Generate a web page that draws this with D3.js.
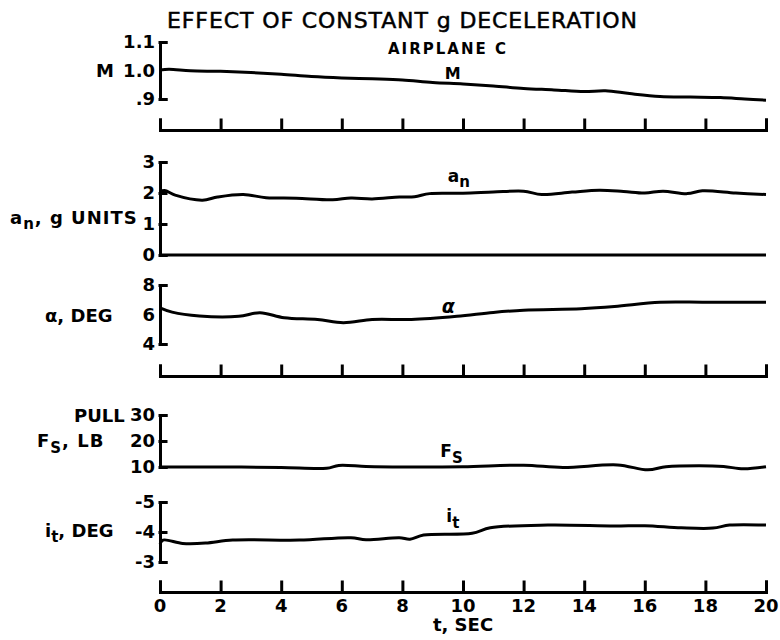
<!DOCTYPE html>
<html>
<head>
<meta charset="utf-8">
<script src="https://cdn.jsdelivr.net/npm/d3@7"></script>
<style>
  body { margin: 0; background: #fff; }
  text { font-family: "DejaVu Sans", "Liberation Sans", sans-serif; font-weight: bold; fill: #000; }
</style>
</head>
<body>
<svg id="chart" width="780" height="640"></svg>
<script>
// time histories, t in seconds
let tM = [0, 0.3, 1, 2, 3, 4, 5, 6, 7, 8, 9, 10, 11, 12, 13, 14, 14.7, 15.5, 16.5, 17.5, 18.5, 19.3, 20];
let mach = [1.002, 1.004, 0.999, 0.997, 0.993, 0.987, 0.979, 0.974, 0.971, 0.967, 0.958, 0.953, 0.946, 0.937, 0.932, 0.926, 0.929, 0.919, 0.909, 0.907, 0.905, 0.900, 0.896];

let tAn = [0, 0.15, 0.5, 1.4, 1.9, 2.75, 3.5, 4.5, 5.7, 6.3, 7, 7.9, 8.4, 8.9, 10, 11, 12, 12.6, 13.6, 14.5, 15.3, 16, 16.6, 17.4, 17.9, 19, 20];
let an = [2.04, 2.08, 1.93, 1.77, 1.87, 1.95, 1.85, 1.83, 1.78, 1.84, 1.81, 1.87, 1.88, 1.98, 1.99, 2.03, 2.06, 1.95, 2.03, 2.09, 2.05, 2.0, 2.06, 1.98, 2.07, 2.0, 1.95];

let tAlpha = [0, 0.4, 1.3, 2.6, 3.3, 4.1, 5.2, 6.05, 7, 7.9, 8.3, 9.8, 11, 12, 13.9, 15, 16.5, 18, 20];
let alpha = [6.45, 6.16, 5.9, 5.88, 6.12, 5.78, 5.66, 5.44, 5.66, 5.66, 5.66, 5.88, 6.14, 6.29, 6.39, 6.54, 6.83, 6.83, 6.83];

let tFs = [0, 2, 4, 5.5, 5.9, 6.8, 8, 10, 12, 13.3, 15.1, 16.1, 16.7, 17.8, 18.6, 19.25, 20];
let fs = [10, 10, 9.8, 9.5, 10.6, 10.2, 10.0, 10.1, 10.7, 9.8, 10.8, 8.9, 10.1, 10.5, 10.2, 9.3, 10.1];

let tIt = [0, 0.1, 0.75, 1.5, 2.4, 4.6, 6.3, 6.8, 7.9, 8.25, 8.7, 10.3, 10.9, 12.8, 15, 16, 17.2, 18.25, 18.8, 20];
let it = [-3.6, -3.73, -3.62, -3.63, -3.73, -3.73, -3.81, -3.74, -3.81, -3.76, -3.9, -3.96, -4.14, -4.23, -4.2, -4.21, -4.14, -4.13, -4.23, -4.23];

let timeTicks = [0, 2, 4, 6, 8, 10, 12, 14, 16, 18, 20];

let mTicks = [1.1, 1.0, 0.9], mTickLabels = ['1.1', '1.0', '.9'];
let anTicks = [3, 2, 1, 0], anTickLabels = ['3', '2', '1', '0'];
let alphaTicks = [8, 6, 4], alphaTickLabels = ['8', '6', '4'];
let fsTicks = [30, 20, 10], fsTickLabels = ['30', '20', '10'];
let itTicks = [-5, -4, -3], itTickLabels = ['-5', '-4', '-3'];

let svg = d3.select('#chart');
let sw = 3;

let x = d3.scaleLinear().domain([0, 20]).range([160, 766]);

let yM = d3.scaleLinear().domain([0.9, 1.1]).range([99, 42]);
let yAn = d3.scaleLinear().domain([0, 3]).range([255, 162]);
let yAlpha = d3.scaleLinear().domain([4, 8]).range([344, 285]);
let yFs = d3.scaleLinear().domain([10, 30]).range([467, 415]);
let yIt = d3.scaleLinear().domain([-3, -5]).range([562, 502]);

let panels = [
    {t: tM, v: mach, y: yM, ticks: [1.1, 0.9], labels: mTicks, text: mTickLabels},
    {t: tAn, v: an, y: yAn, ticks: [3, 2, 1, 0], labels: anTicks, text: anTickLabels},
    {t: tAlpha, v: alpha, y: yAlpha, ticks: [8, 4], labels: alphaTicks, text: alphaTickLabels},
    {t: tFs, v: fs, y: yFs, ticks: [30, 20, 10], labels: fsTicks, text: fsTickLabels},
    {t: tIt, v: it, y: yIt, ticks: [-5, -4, -3], labels: itTicks, text: itTickLabels}
];

function style_axis(g) {
    g.selectAll('path, line').attr('stroke', '#000').attr('stroke-width', sw).attr('stroke-linecap', 'square');
    g.selectAll('text').remove();
}

panels.forEach(p => {
    // bracket style vertical scale
    let ga = svg.append('g').attr('transform', 'translate(' + x(0) + ',0)')
        .call(d3.axisRight(p.y).tickValues(p.ticks).tickSize(6).tickSizeOuter(6).tickFormat(''));
    style_axis(ga);

    svg.append('g').selectAll('text')
        .data(p.labels)
        .enter()
        .append('text')
        .attr('x', 155)
        .attr('y', d => p.y(d))
        .attr('dy', '0.36em')
        .attr('text-anchor', 'end')
        .style('font-size', '18px')
        .text((d, i) => p.text[i]);

    let line = d3.line()
        .x(d => x(d[0]))
        .y(d => p.y(d[1]))
        .curve(d3.curveCatmullRom);

    svg.append('path')
        .datum(p.t.map((t, i) => [t, p.v[i]]))
        .attr('d', line)
        .attr('fill', 'none')
        .attr('stroke', '#000')
        .attr('stroke-width', sw)
        .attr('stroke-linejoin', 'round');
});

// zero line of the load factor panel
svg.append('line')
    .attr('x1', x(0)).attr('x2', x(20))
    .attr('y1', yAn(0)).attr('y2', yAn(0))
    .attr('stroke', '#000').attr('stroke-width', sw);

// time scales
[130, 376, 592].forEach(yy => {
    let g = svg.append('g').attr('transform', 'translate(0,' + yy + ')')
        .call(d3.axisTop(x).tickValues(timeTicks).tickSize(10).tickSizeOuter(10).tickFormat(''));
    style_axis(g);
});

svg.append('g').selectAll('text')
    .data(timeTicks)
    .enter()
    .append('text')
    .attr('x', d => x(d))
    .attr('y', 612)
    .attr('text-anchor', 'middle')
    .style('font-size', '18px')
    .text(d => d);

svg.append('text').attr('x', x(10)).attr('y', 631).attr('text-anchor', 'middle')
    .style('font-size', '18px').text('t, SEC');

// titles
svg.append('text').attr('x', 167).attr('y', 28)
    .attr('textLength', 470).attr('lengthAdjust', 'spacing')
    .style('font-size', '22px').style('font-weight', 'normal')
    .attr('stroke', '#000').attr('stroke-width', 0.5)
    .text('EFFECT OF CONSTANT g DECELERATION');

svg.append('text').attr('x', 388).attr('y', 54)
    .style('font-size', '15px').style('letter-spacing', '2px')
    .text('AIRPLANE C');

// left hand labels
let lsz = '18px';
svg.append('text').attr('x', 96).attr('y', 77).style('font-size', lsz).text('M');

let lan = svg.append('text').attr('x', 10).attr('y', 224).style('font-size', lsz).style('letter-spacing', '1px');
lan.append('tspan').text('a');
lan.append('tspan').attr('dy', 5).style('font-size', '15px').text('n');
lan.append('tspan').attr('dy', -5).text(', g UNITS');

svg.append('text').attr('x', 45).attr('y', 322).style('font-size', lsz).text('α, DEG');

svg.append('text').attr('x', 74).attr('y', 422).style('font-size', lsz).text('PULL');
let lfs = svg.append('text').attr('x', 37).attr('y', 447).style('font-size', lsz).style('letter-spacing', '1px');
lfs.append('tspan').text('F');
lfs.append('tspan').attr('dy', 6).style('font-size', '15px').text('S');
lfs.append('tspan').attr('dy', -6).text(', LB');

let lit = svg.append('text').attr('x', 45).attr('y', 537).style('font-size', lsz);
lit.append('tspan').text('i');
lit.append('tspan').attr('dy', 5).style('font-size', '15px').text('t');
lit.append('tspan').attr('dy', -5).text(', DEG');

// curve labels
svg.append('text').attr('x', x(9.4)).attr('y', 79).style('font-size', '16px').text('M');

let can = svg.append('text').attr('x', x(9.5)).attr('y', 182).style('font-size', '17px');
can.append('tspan').text('a');
can.append('tspan').attr('dy', 5).style('font-size', '15px').text('n');

svg.append('text').attr('x', x(9.3)).attr('y', 313).style('font-size', '19px').style('font-style', 'italic').text('α');

let cfs = svg.append('text').attr('x', x(9.25)).attr('y', 457).style('font-size', '17px');
cfs.append('tspan').text('F');
cfs.append('tspan').attr('dy', 6).style('font-size', '15px').text('S');

let cit = svg.append('text').attr('x', x(9.45)).attr('y', 522).style('font-size', '17px');
cit.append('tspan').text('i');
cit.append('tspan').attr('dy', 6).style('font-size', '15px').text('t');
</script>
</body>
</html>
